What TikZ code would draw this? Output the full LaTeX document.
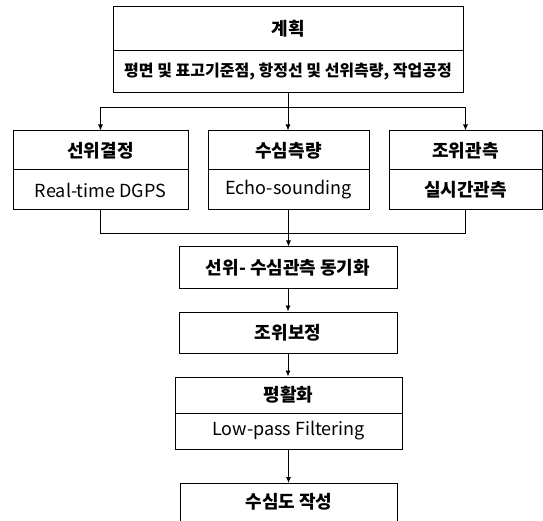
\documentclass[tikz,border=0pt]{standalone}
\usepackage{fontspec}
\setmainfont{Noto Sans CJK KR}
\usetikzlibrary{arrows.meta}
\begin{document}
\begin{tikzpicture}[x=1pt,y=-1pt,
  box/.style={draw, line width=1pt, inner sep=0pt, anchor=center},
  ttl/.style={font=\fontsize{18}{20}\selectfont\bfseries},
  sub/.style={font=\fontsize{18}{20}\selectfont},
  conn/.style={line width=0.9pt},
  arr/.style={line width=0.9pt, -{Latex[length=6pt,width=5pt]}}]
\useasboundingbox (0,0) rectangle (543,521);
% top
\node[box, ttl, minimum width=350, minimum height=44] (t1) at (288,29) {계획};
\node[box, font=\fontsize{16}{18}\selectfont\bfseries, minimum width=350, minimum height=42] (t2) at (288,72) {평면 및 표고기준점, 항정선 및 선위측량, 작업공정};
% row
\node[box, ttl, minimum width=175, minimum height=39] (a1) at (100.5,150.5) {선위결정};
\node[box, sub, minimum width=175, minimum height=40] (a2) at (100.5,190) {Real-time DGPS};
\node[box, ttl, minimum width=161, minimum height=39] (b1) at (288.5,150.5) {수심측량};
\node[box, sub, minimum width=161, minimum height=40] (b2) at (288.5,190) {Echo-sounding};
\node[box, ttl, minimum width=153, minimum height=39] (c1) at (465.5,150.5) {조위관측};
\node[box, ttl, minimum width=153, minimum height=40] (c2) at (465.5,190) {실시간관측};
% chain
\node[box, ttl, minimum width=218, minimum height=41] (s1) at (288,267.5) {선위- 수심관측 동기화};
\node[box, ttl, minimum width=218, minimum height=41] (s2) at (288,332.5) {조위보정};
\node[box, ttl, minimum width=227, minimum height=36] (p1) at (288.5,395) {평활화};
\node[box, sub, minimum width=227, minimum height=36] (p2) at (288.5,431) {Low-pass Filtering};
\node[ttl, inner sep=0pt, minimum width=216, minimum height=38, anchor=north] (n7) at (289,483) {수심도 작성};
\draw[line width=1pt] ([yshift=-10pt]n7.south west) -- (n7.north west) -- (n7.north east) -- ([yshift=-10pt]n7.south east);
% connectors
\coordinate (split) at (288,107);
\coordinate (merge) at (288,233);
\draw[conn] (t2.south) -- (split);
\draw[arr] (split) -| (a1.north);
\draw[arr] (split) -| (c1.north);
\draw[arr] (split) -- (split |- b1.north);
\draw[conn] (a2.south) |- (merge);
\draw[conn] (c2.south) |- (merge);
\draw[arr] (b2.south) -- (b2.south |- s1.north);
\draw[arr] (s1) -- (s2);
\draw[arr] (s2) -- (s2 |- p1.north);
\draw[arr] (p2.south) -- (p2.south |- n7.north);
\end{tikzpicture}
\end{document}
